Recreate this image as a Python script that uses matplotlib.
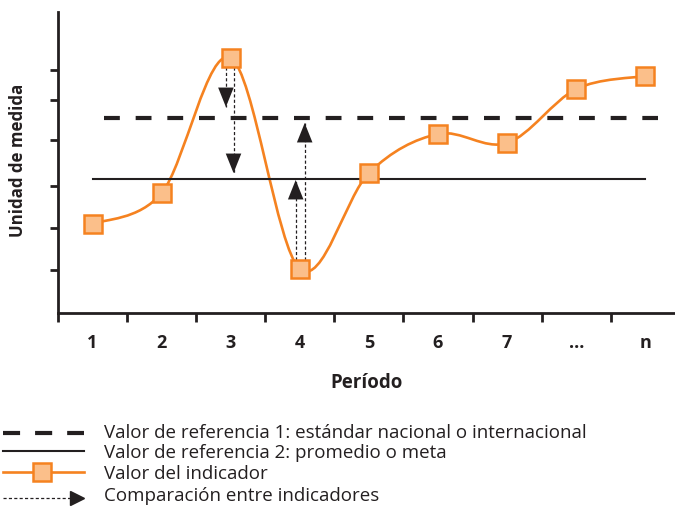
import matplotlib
matplotlib.use("Agg")
from matplotlib import pyplot as plt
from matplotlib.path import Path
from matplotlib.patches import PathPatch
from matplotlib.lines import Line2D
import numpy as np

plt.rcParams['font.family'] = ['Open Sans', 'DejaVu Sans']

# data
periods = [1, 2, 3, 4, 5, 6, 7, 8, 9]
period_labels = ['1', '2', '3', '4', '5', '6', '7', '...', 'n']
indicator = [8.9, 12.0, 25.5, 4.4, 14.0, 17.9, 17.0, 22.4, 23.7]
ref1 = 19.5          # estándar nacional o internacional
ref1_span = (1.17, 9.18)
ref2 = 13.4          # promedio o meta
ref2_span = (1.0, 9.0)
y_ticks = [4.3, 8.5, 12.7, 17.3, 21.3, 24.3]
# comparison arrows: (x, y_start, y_tip)
comparisons = [(2.93, 24.6, 20.6), (3.04, 24.6, 14.0),
               (3.94, 5.3, 13.3), (4.07, 5.3, 19.0)]

DARK = '#231f20'
ORANGE = '#f58220'
ORANGE_FILL = '#fbbf8a'

W, H = 675, 507
fig = plt.figure(figsize=(W / 100, H / 100), dpi=100)
ax = fig.add_axes([58 / W, 1 - 313 / H, (W - 58) / W, (313 - 12) / H])


def smooth_path(xs, ys):
    """Catmull-Rom curve through the points, as cubic bezier segments."""
    pts = np.column_stack([xs, ys]).astype(float)
    ext = np.vstack([pts[0], pts, pts[-1]])
    verts = [pts[0]]
    codes = [Path.MOVETO]
    for i in range(1, len(ext) - 2):
        p0, p1, p2, p3 = ext[i - 1], ext[i], ext[i + 1], ext[i + 2]
        verts += [p1 + (p2 - p0) / 6, p2 - (p3 - p1) / 6, p2]
        codes += [Path.CURVE4] * 3
    return Path(verts, codes)


# reference lines
ax.plot(ref1_span, [ref1, ref1], color=DARK, lw=3, ls=(0, (3.8, 3.8)),
        solid_capstyle='butt', dash_capstyle='butt')
ax.plot(ref2_span, [ref2, ref2], color=DARK, lw=1.5)

# comparison arrows
for x, y0, y1 in comparisons:
    ax.plot([x, x], [y0, y1], color=DARK, lw=0.9, ls=(0, (2.5, 1.8)))
    d = 1.3 if y1 < y0 else -1.3
    ax.annotate('', xy=(x, y1), xytext=(x, y1 + d),
                arrowprops=dict(arrowstyle='-|>,head_length=1.0,head_width=0.4',
                                color=DARK, lw=0, mutation_scale=14,
                                shrinkA=0, shrinkB=0))

# indicator curve
ax.add_patch(PathPatch(smooth_path(periods, indicator), fill=False,
                       edgecolor=ORANGE, lw=1.9))
ax.plot(periods, indicator, ls='none', marker='s', ms=12.5,
        mfc=ORANGE_FILL, mec=ORANGE, mew=1.8, zorder=5)

ax.set_xlim(0.5, 0.5 + (W - 58) / 69.1)
ax.set_ylim(0, 30.1)
for s in ['top', 'right']:
    ax.spines[s].set_visible(False)
for s in ['left', 'bottom']:
    ax.spines[s].set_linewidth(2)
    ax.spines[s].set_color(DARK)

ax.set_xticks(np.arange(0.5, 9.0, 1.0))
ax.set_xticklabels([])
ax.tick_params(axis='x', which='major', length=6.5, width=2, color=DARK)
ax.set_xticks(periods, minor=True)
ax.set_xticklabels(period_labels, minor=True, fontsize=13, fontweight='bold',
                   color=DARK)
ax.tick_params(axis='x', which='minor', length=0, pad=15)
ax.set_yticks(y_ticks)
ax.set_yticklabels([])
ax.tick_params(axis='y', length=5.5, width=2, color=DARK)

ax.set_xlabel('Período', fontsize=13.5, fontweight='bold', color=DARK,
              labelpad=15)
fig.text(18 / W, 1 - 160 / H, 'Unidad de medida', rotation=90,
         fontsize=12.2, fontweight='bold', color=DARK, ha='center', va='center')


# legend drawn by hand below the chart
def fx(px):
    return px / W


def fy(py):
    return 1 - py / H


tf = fig.transFigure
fig.add_artist(Line2D([fx(3), fx(84)], [fy(433), fy(433)], transform=tf,
                      color=DARK, lw=3, ls=(0, (4.1, 3.6))))
fig.add_artist(Line2D([fx(3), fx(84)], [fy(451), fy(451)], transform=tf,
                      color=DARK, lw=1.5))
fig.add_artist(Line2D([fx(3), fx(84)], [fy(472), fy(472)], transform=tf,
                      color=ORANGE, lw=1.9))
fig.add_artist(Line2D([fx(42)], [fy(472)], transform=tf, ls='none',
                      marker='s', ms=12.5, mfc=ORANGE_FILL, mec=ORANGE, mew=1.8))
fig.add_artist(Line2D([fx(3), fx(70)], [fy(498), fy(498)], transform=tf,
                      color=DARK, lw=0.9, ls=(0, (2.5, 1.8))))
fig.add_artist(Line2D([fx(77)], [fy(498)], transform=tf, ls='none',
                      marker='>', ms=9.5, color=DARK))

legend_texts = ['Valor de referencia 1: estándar nacional o internacional',
                'Valor de referencia 2: promedio o meta',
                'Valor del indicador',
                'Comparación entre indicadores']
for text, py in zip(legend_texts, [433, 453, 474, 496]):
    fig.text(fx(104), fy(py), text, fontsize=13.5, color=DARK,
             ha='left', va='center')

fig.savefig('out.png', dpi=100)
